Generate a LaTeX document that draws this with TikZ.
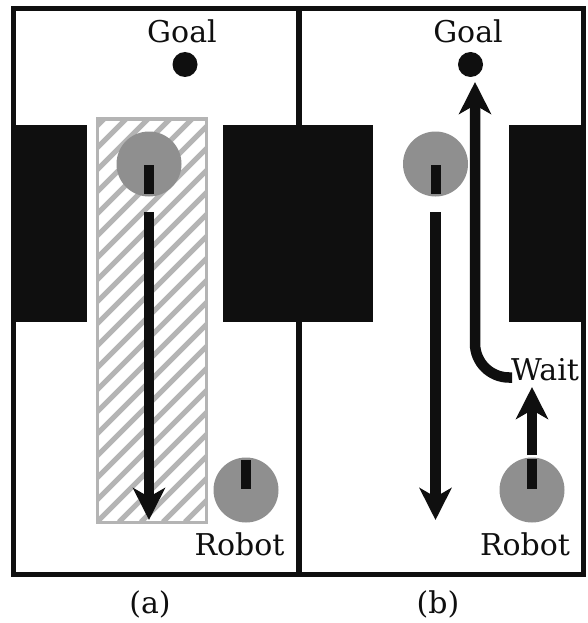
\documentclass[tikz,border=0pt]{standalone}
\usepackage{fontspec}
\setmainfont{DejaVu Serif}
\usetikzlibrary{arrows.meta}
\definecolor{blk}{HTML}{0F0F0F}
\definecolor{robotgray}{HTML}{8F8F8F}
\definecolor{hatchgray}{HTML}{B4B4B4}
\tikzset{
  wall/.style={fill=blk, draw=none},
  frame/.style={draw=blk, line width=5pt},
  robotbody/.style={fill=robotgray, draw=none},
  tick/.style={fill=blk, draw=none},
  goaldot/.style={fill=blk, draw=none},
  pathline/.style={draw=blk, line width=10.5pt, line cap=butt,
    -{Stealth[length=32pt, width=32pt, inset=9pt]}},
  lbl/.style={font=\fontsize{30}{36}\selectfont, inner sep=0pt, anchor=base, text=blk},
}
\begin{document}
\begin{tikzpicture}[x=1pt, y=-1pt]
\useasboundingbox (0,0) rectangle (588,623);
\fill[white] (0,0) rectangle (588,623);
% walls
\path[wall] (13.5,125) rectangle (87,322);
\path[wall] (223,125) rectangle (298.5,322);
\path[wall] (298.5,125) rectangle (373,322);
\path[wall] (509,125) rectangle (583,322);
% frame
\draw[frame] (13.5,8.5) rectangle (583,574);
\draw[blk, line width=6pt] (298.5,8.5) -- (298.5,574);
% hatched region (a)
\begin{scope}
  \clip (97,119) rectangle (206,522);
  \foreach \k in {-24,...,24} {
    \draw[hatchgray, line width=5pt] (97+\k*22,522) -- ++(420,-420);
  }
\end{scope}
\draw[hatchgray, line width=3pt] (97,119) rectangle (206,522);
% ---- panel (a)
\node[lbl] (goalA) at (182,43) {Goal};
\path[goaldot] (185,64.5) circle (12.5);
\path[robotbody] (149,164) circle (32.5);
\path[tick] (144,165) rectangle (154,194);
\coordinate (a1) at (149,212);
\coordinate (a2) at (149,520);
\draw[pathline] (a1) -- (a2);
\path[robotbody] (246,490) circle (32.5);
\path[tick] (241,460) rectangle (251,489);
\node[lbl] (robotA) at (239.5,555) {Robot};
\node[lbl] (capA) at (150,613) {(a)};
% ---- panel (b)
\node[lbl] (goalB) at (468,43) {Goal};
\path[goaldot] (470.5,64.5) circle (12.5);
\path[robotbody] (435.5,164) circle (32.5);
\path[tick] (430.5,165) rectangle (440.5,194);
\coordinate (b1) at (435.5,212);
\coordinate (b2) at (435.5,520);
\draw[pathline] (b1) -- (b2);
\coordinate (w0) at (512,377.5);
\coordinate (g0) at (475,82);
\draw[pathline, rounded corners=34pt] (w0) -| (g0);
\node[lbl] (wait) at (545,380) {Wait};
\coordinate (r0) at (532,455);
\coordinate (r1) at (532,387);
\draw[pathline] (r0) -- (r1);
\path[robotbody] (532,490) circle (32.5);
\path[tick] (527,459) rectangle (537,489);
\node[lbl] (robotB) at (525,555) {Robot};
\node[lbl] (capB) at (438,613) {(b)};
\end{tikzpicture}
\end{document}
